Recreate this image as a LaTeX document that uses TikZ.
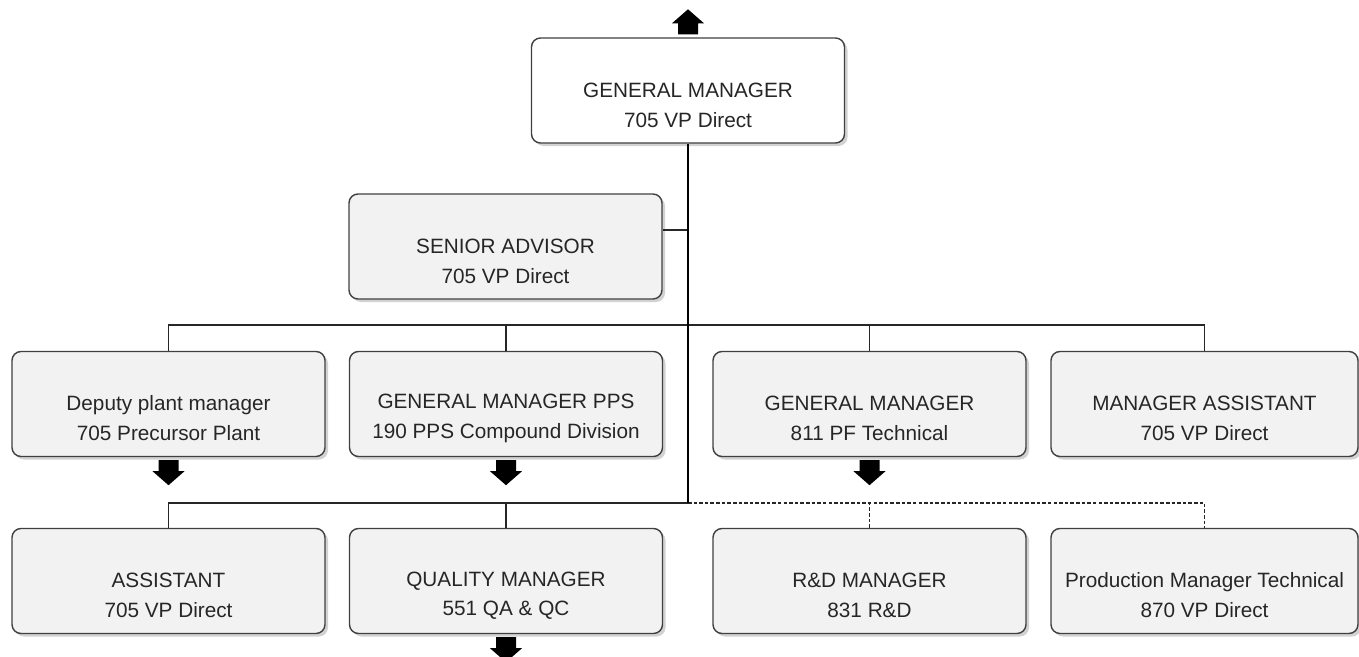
\documentclass[tikz,border=0pt]{standalone}
\usepackage{fontspec}
\setmainfont{Liberation Sans}
\usepackage{tikz}
\usetikzlibrary{calc,shadows}
\def\blockarrow[#1](#2){\fill[black,shift={(#2)},#1] (-0.2,-0.06) -- (0.2,-0.06) -- (0.2,-0.28) -- (0.32,-0.28) -- (0,-0.56) -- (-0.32,-0.28) -- (-0.2,-0.28) -- cycle;}
\newcommand{\orgtext}[2]{\rule{0pt}{8pt}\\#1\\#2}
\tikzset{
	orgbox/.style={draw=black!75, line width=0.8pt, rounded corners=0.18cm, fill=black!5,
		minimum width=6.26cm, minimum height=2.1cm, inner sep=1pt, align=center,
		text=black!85, font=\fontsize{11.8}{17}\selectfont,
		drop shadow={shadow xshift=0.06cm, shadow yshift=-0.06cm, fill=black!35}},
	topbox/.style={orgbox, fill=white},
	link/.style={line width=0.8pt, black!85},
	trunk/.style={line width=1.7pt, black}
}
\begin{document}
\begin{tikzpicture}
			%%%%% START %%%%%
			\useasboundingbox (0, 0) rectangle (27.18, 13.12);
			
			\node[topbox] (gm) at (13.76, 11.31) {\orgtext{GENERAL MANAGER}{705 VP Direct}};
			\node[orgbox] (advisor) at (10.11, 8.19) {\orgtext{SENIOR ADVISOR}{705 VP Direct}};
			
			\node[orgbox] (deputy) at (3.37, 5.04) {\orgtext{Deputy plant manager}{705 Precursor Plant}};
			\node[orgbox] (pps) at (10.12, 5.04) {\orgtext{GENERAL MANAGER PPS}{190 PPS Compound Division}};
			\node[orgbox] (pftech) at (17.39, 5.04) {\orgtext{GENERAL MANAGER}{811 PF Technical}};
			\node[orgbox, minimum width=6.14cm] (mgrasst) at (24.09, 5.04) {\orgtext{MANAGER ASSISTANT}{705 VP Direct}};
			
			\node[orgbox] (asst) at (3.37, 1.5) {\orgtext{ASSISTANT}{705 VP Direct}};
			\node[orgbox] (quality) at (10.12, 1.5) {\orgtext{QUALITY MANAGER}{551 QA \& QC}};
			\node[orgbox] (rnd) at (17.39, 1.5) {\orgtext{R\&D MANAGER}{831 R\&D}};
			\node[orgbox, minimum width=6.14cm] (prodtech) at (24.09, 1.5) {\orgtext{Production Manager Technical}{870 VP Direct}};
			
			\coordinate (advtap) at (13.76, 8.52);
			\coordinate (bus1) at (13.76, 6.62);
			\coordinate (bus2) at (13.76, 3.06);
			
			% first row
			\draw[link] (deputy.north) |- (mgrasst.north |- bus1) -- (mgrasst.north);
			\draw[link] (pps.north) -- (pps.north |- bus1);
			\draw[link] (pftech.north) -- (pftech.north |- bus1);
			\draw[link] (advtap) -- (advtap -| advisor.east);
			
			% second row
			\draw[link] (asst.north) |- (bus2);
			\draw[link] (quality.north) -- (quality.north |- bus2);
			\draw[link, dash pattern=on 2pt off 1.2pt] (bus2) -| (prodtech.north);
			\draw[link, dash pattern=on 2pt off 1.2pt] (rnd.north) -- (rnd.north |- bus2);
			
			\draw[trunk] (gm.south) -- (bus2);
			
			\blockarrow[yscale=-1](gm.north)
			\blockarrow[](deputy.south)
			\blockarrow[](pps.south)
			\blockarrow[](pftech.south)
			\blockarrow[](quality.south)
			
			%%%%% END %%%%%
\end{tikzpicture}
\end{document}
